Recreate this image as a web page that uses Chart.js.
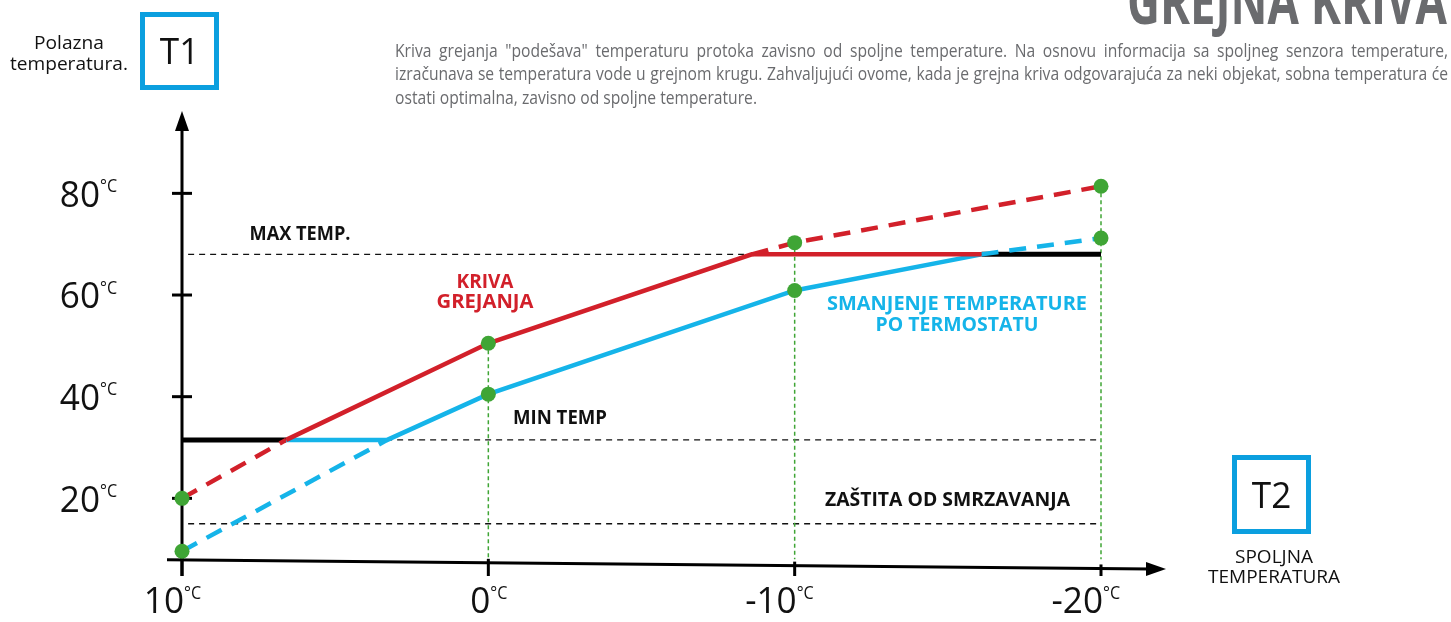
<!DOCTYPE html>
<html>
<head>
<meta charset="utf-8">
<script src="https://cdn.jsdelivr.net/npm/chart.js@4"></script>
<style>
  body { margin: 0; background: #fff; }
</style>
</head>
<body>
<canvas id="grafik" width="1451" height="622"></canvas>
<script>
// spoljna temperatura (x osa) i polazna temperatura (y osa), u °C
const spoljneTacke = [10, 0, -10, -20]
const polazneOznake = [20, 40, 60, 80]

// kriva grejanja (crvena) i kriva sa smanjenjem po termostatu (plava)
const krivaGrejanja = [20, 50.5, 70.3, 81.4]
const krivaSmanjena = [9.6, 40.5, 60.9, 71.2]

// granične temperature
const minTemp = 31.5
const maxTemp = 68
const zastitaTemp = 15

// gde krive udaraju u min / max granicu (spoljna temperatura)
const crvenaMinX = 6.6
const plavaMinX = 3.3
const crvenaMaxX = -8.6
const plavaMaxX = -16.1

// donji kraj zelenih vodilja
const dnoVodilja = 8

const CRVENA = '#d2202a'
const PLAVA = '#15b4e9'
const ZELENA = '#3fa535'
const OKVIR = '#0b9fdf'
const SIVA = '#6a6b6e'

const xy = (xs, ys) => xs.map((x, i) => ({ x, y: ys[i] }))

function linija(data, color, width, dash) {
  return {
    data,
    showLine: true,
    borderColor: color,
    borderWidth: width,
    borderDash: dash || [],
    pointRadius: 0,
    tension: 0,
    clip: false
  }
}

const datasets = []

// tačke na krivama
datasets.push({
  data: xy(spoljneTacke, krivaGrejanja).concat(xy(spoljneTacke, krivaSmanjena)),
  pointRadius: 7.5,
  pointBackgroundColor: ZELENA,
  pointBorderWidth: 0,
  showLine: false,
  clip: false
})

// crvena kriva - puni deo
datasets.push(linija([
  { x: crvenaMinX, y: minTemp },
  { x: spoljneTacke[1], y: krivaGrejanja[1] },
  { x: crvenaMaxX, y: maxTemp },
  { x: plavaMaxX, y: maxTemp }
], CRVENA, 4.5))

// plava kriva - puni deo
datasets.push(linija([
  { x: crvenaMinX, y: minTemp },
  { x: plavaMinX, y: minTemp },
  { x: spoljneTacke[1], y: krivaSmanjena[1] },
  { x: spoljneTacke[2], y: krivaSmanjena[2] },
  { x: plavaMaxX, y: maxTemp }
], PLAVA, 4.5))

// isprekidani nastavci krivih
datasets.push(linija([
  { x: spoljneTacke[0], y: krivaGrejanja[0] },
  { x: crvenaMinX, y: minTemp }
], CRVENA, 4.5, [17, 11]))
datasets.push(linija([
  { x: crvenaMaxX, y: maxTemp },
  { x: spoljneTacke[2], y: krivaGrejanja[2] },
  { x: spoljneTacke[3], y: krivaGrejanja[3] }
], CRVENA, 4.5, [17, 11]))
datasets.push(linija([
  { x: spoljneTacke[0], y: krivaSmanjena[0] },
  { x: plavaMinX, y: minTemp }
], PLAVA, 4.5, [17, 11]))
datasets.push(linija([
  { x: plavaMaxX, y: maxTemp },
  { x: spoljneTacke[3], y: krivaSmanjena[3] }
], PLAVA, 4.5, [17, 11]))

// crni delovi na granicama
datasets.push(linija([
  { x: spoljneTacke[0], y: minTemp },
  { x: crvenaMinX, y: minTemp }
], '#000', 5))
datasets.push(linija([
  { x: plavaMaxX, y: maxTemp },
  { x: spoljneTacke[3], y: maxTemp }
], '#000', 5))

// zelene vodilje od krive do x ose
spoljneTacke.slice(1).forEach((t, i) => {
  datasets.push(linija([
    { x: t, y: krivaGrejanja[i + 1] },
    { x: t, y: dnoVodilja }
  ], ZELENA, 1.5, [4, 3]))
})

// granice: max, min, zaštita od smrzavanja
;[maxTemp, minTemp, zastitaTemp].forEach(v => {
  datasets.push(linija([
    { x: spoljneTacke[0] - 0.2, y: v },
    { x: spoljneTacke[3], y: v }
  ], '#111', 1.3, [6, 5]))
})

function tekst(ctx, str, x, cy, size, opts = {}) {
  const weight = opts.weight || 'normal'
  const family = opts.family || 'Open Sans'
  const align = opts.align || 'left'
  ctx.save()
  ctx.font = `${weight} ${size}px "${family}"`
  ctx.fillStyle = opts.color || '#111'
  ctx.textBaseline = 'alphabetic'
  const w = ctx.measureText(str).width
  const sx = opts.width ? opts.width / w : (opts.sx || 1)
  const wd = w * sx
  const left = align === 'center' ? x - wd / 2 : align === 'right' ? x - wd : x
  const base = opts.base !== undefined ? opts.base : cy + size * 0.357
  ctx.translate(left, base)
  ctx.scale(sx, 1)
  ctx.fillText(str, 0, 0)
  ctx.restore()
  return wd
}

// poravnat pasus (justify), poslednji red levo
function pasus(ctx, redovi, left, right, cy0, razmak, size, sirinaPoslednjeg) {
  ctx.save()
  ctx.font = `normal ${size}px "Open Sans"`
  ctx.fillStyle = SIVA
  const sx = sirinaPoslednjeg / ctx.measureText(redovi[redovi.length - 1]).width
  redovi.forEach((red, i) => {
    const base = cy0 + i * razmak + size * 0.357
    const reci = red.split(' ')
    const poslednji = i === redovi.length - 1
    const sirine = reci.map(r => ctx.measureText(r).width * sx)
    const space = ctx.measureText(' ').width * sx
    const ukupno = sirine.reduce((a, b) => a + b, 0)
    const gap = poslednji ? space : (right - left - ukupno) / (reci.length - 1)
    let xx = left
    reci.forEach((r, k) => {
      ctx.save()
      ctx.translate(xx, base)
      ctx.scale(sx, 1)
      ctx.fillText(r, 0, 0)
      ctx.restore()
      xx += sirine[k] + gap
    })
  })
  ctx.restore()
}

function okvir(ctx, x1, y1, x2, y2, natpis) {
  ctx.save()
  ctx.strokeStyle = OKVIR
  ctx.lineWidth = 5
  ctx.strokeRect(x1 + 2.5, y1 + 2.5, x2 - x1 - 5, y2 - y1 - 5)
  ctx.restore()
  tekst(ctx, natpis, (x1 + x2) / 2, (y1 + y2) / 2, 37, { align: 'center', sx: 0.95 })
}

const osePlugin = {
  id: 'ose',
  beforeDatasetsDraw(chart) {
    const { ctx, scales: { x, y } } = chart
    const x0 = x.getPixelForValue(spoljneTacke[0])
    const osaY = px => 560 + (px - x0) * 0.0092
    ctx.save()
    ctx.strokeStyle = '#000'
    ctx.fillStyle = '#000'
    ctx.lineWidth = 3

    // y osa sa strelicom
    ctx.beginPath()
    ctx.moveTo(x0, 576)
    ctx.lineTo(x0, 128)
    ctx.stroke()
    ctx.beginPath()
    ctx.moveTo(x0, 111)
    ctx.lineTo(x0 - 7, 131)
    ctx.lineTo(x0 + 7, 131)
    ctx.closePath()
    ctx.fill()
    polazneOznake.forEach(v => {
      const py = y.getPixelForValue(v)
      ctx.beginPath()
      ctx.moveTo(x0 - 10, py)
      ctx.lineTo(x0 + 10, py)
      ctx.stroke()
    })

    // x osa sa strelicom
    const kraj = 1166
    ctx.beginPath()
    ctx.moveTo(x0 - 15, osaY(x0 - 15))
    ctx.lineTo(kraj - 16, osaY(kraj - 16))
    ctx.stroke()
    ctx.beginPath()
    ctx.moveTo(kraj, osaY(kraj))
    ctx.lineTo(kraj - 20, osaY(kraj) - 7)
    ctx.lineTo(kraj - 20, osaY(kraj) + 7)
    ctx.closePath()
    ctx.fill()
    spoljneTacke.forEach(t => {
      const px = x.getPixelForValue(t)
      ctx.beginPath()
      ctx.moveTo(px, osaY(px) - 4)
      ctx.lineTo(px, 576)
      ctx.stroke()
    })
    ctx.restore()
  },
  afterDraw(chart) {
    const { ctx, scales: { x, y } } = chart
    const x0 = x.getPixelForValue(spoljneTacke[0])

    // oznake na y osi
    polazneOznake.forEach(v => {
      const py = y.getPixelForValue(v)
      tekst(ctx, String(v), x0 - 82, py, 37, { align: 'right', sx: 0.95 })
      tekst(ctx, '°C', x0 - 82, py - 8, 19, { sx: 0.85 })
    })
    // oznake na x osi
    spoljneTacke.forEach(t => {
      const px = x.getPixelForValue(t)
      tekst(ctx, String(t), px + 2, 600, 37, { align: 'right', sx: 0.95 })
      tekst(ctx, '°C', px + 2, 592, 19, { sx: 0.85 })
    })

    // natpisi u grafiku
    tekst(ctx, 'MAX TEMP.', 300, 232.5, 20, { weight: 'bold', align: 'center', width: 101 })
    tekst(ctx, 'KRIVA', 485, 280.5, 20, { weight: 'bold', align: 'center', width: 57, color: CRVENA })
    tekst(ctx, 'GREJANJA', 485, 300.5, 20, { weight: 'bold', align: 'center', width: 97, color: CRVENA })
    tekst(ctx, 'MIN TEMP', 560, 416.5, 20, { weight: 'bold', align: 'center', width: 94 })
    tekst(ctx, 'SMANJENJE TEMPERATURE', 957, 302.5, 20, { weight: 'bold', align: 'center', width: 260, color: PLAVA })
    tekst(ctx, 'PO TERMOSTATU', 957, 324, 20, { weight: 'bold', align: 'center', width: 163, color: PLAVA })
    tekst(ctx, 'ZAŠTITA OD SMRZAVANJA', 947.5, 498.5, 20, { weight: 'bold', align: 'center', width: 245 })

    // T1 / T2
    okvir(ctx, 140, 12, 219, 90, 'T1')
    tekst(ctx, 'Polazna', 69, 43, 18, { align: 'center', width: 70 })
    tekst(ctx, 'temperatura.', 69, 64, 18, { align: 'center', width: 118 })
    okvir(ctx, 1232, 455, 1311, 534, 'T2')
    tekst(ctx, 'SPOLJNA', 1274, 557, 18, { align: 'center', width: 78 })
    tekst(ctx, 'TEMPERATURA', 1274, 577, 18, { align: 'center', width: 132 })

    // naslov i opis
    tekst(ctx, 'GREJNA KRIVA', 1447, 0, 62, { weight: 'bold', align: 'right', width: 320, color: SIVA, base: 24 })
    pasus(ctx, [
      'Kriva grejanja "podešava" temperaturu protoka zavisno od spoljne temperature. Na osnovu informacija sa spoljneg senzora temperature,',
      'izračunava se temperatura vode u grejnom krugu. Zahvaljujući ovome, kada je grejna kriva odgovarajuća za neki objekat, sobna temperatura će',
      'ostati optimalna, zavisno od spoljne temperature.'
    ], 395, 1448, 50, 23.5, 19, 362)
  }
}

new Chart(document.getElementById('grafik'), {
  type: 'scatter',
  data: { datasets },
  options: {
    responsive: false,
    animation: false,
    events: [],
    layout: { padding: { left: 182, right: 350, top: 91.7, bottom: 22 } },
    scales: {
      x: { type: 'linear', min: -20, max: 10, reverse: true, display: false },
      y: { type: 'linear', min: 0, max: 100, display: false }
    },
    plugins: {
      legend: { display: false },
      tooltip: { enabled: false }
    }
  },
  plugins: [osePlugin]
})
</script>
</body>
</html>
